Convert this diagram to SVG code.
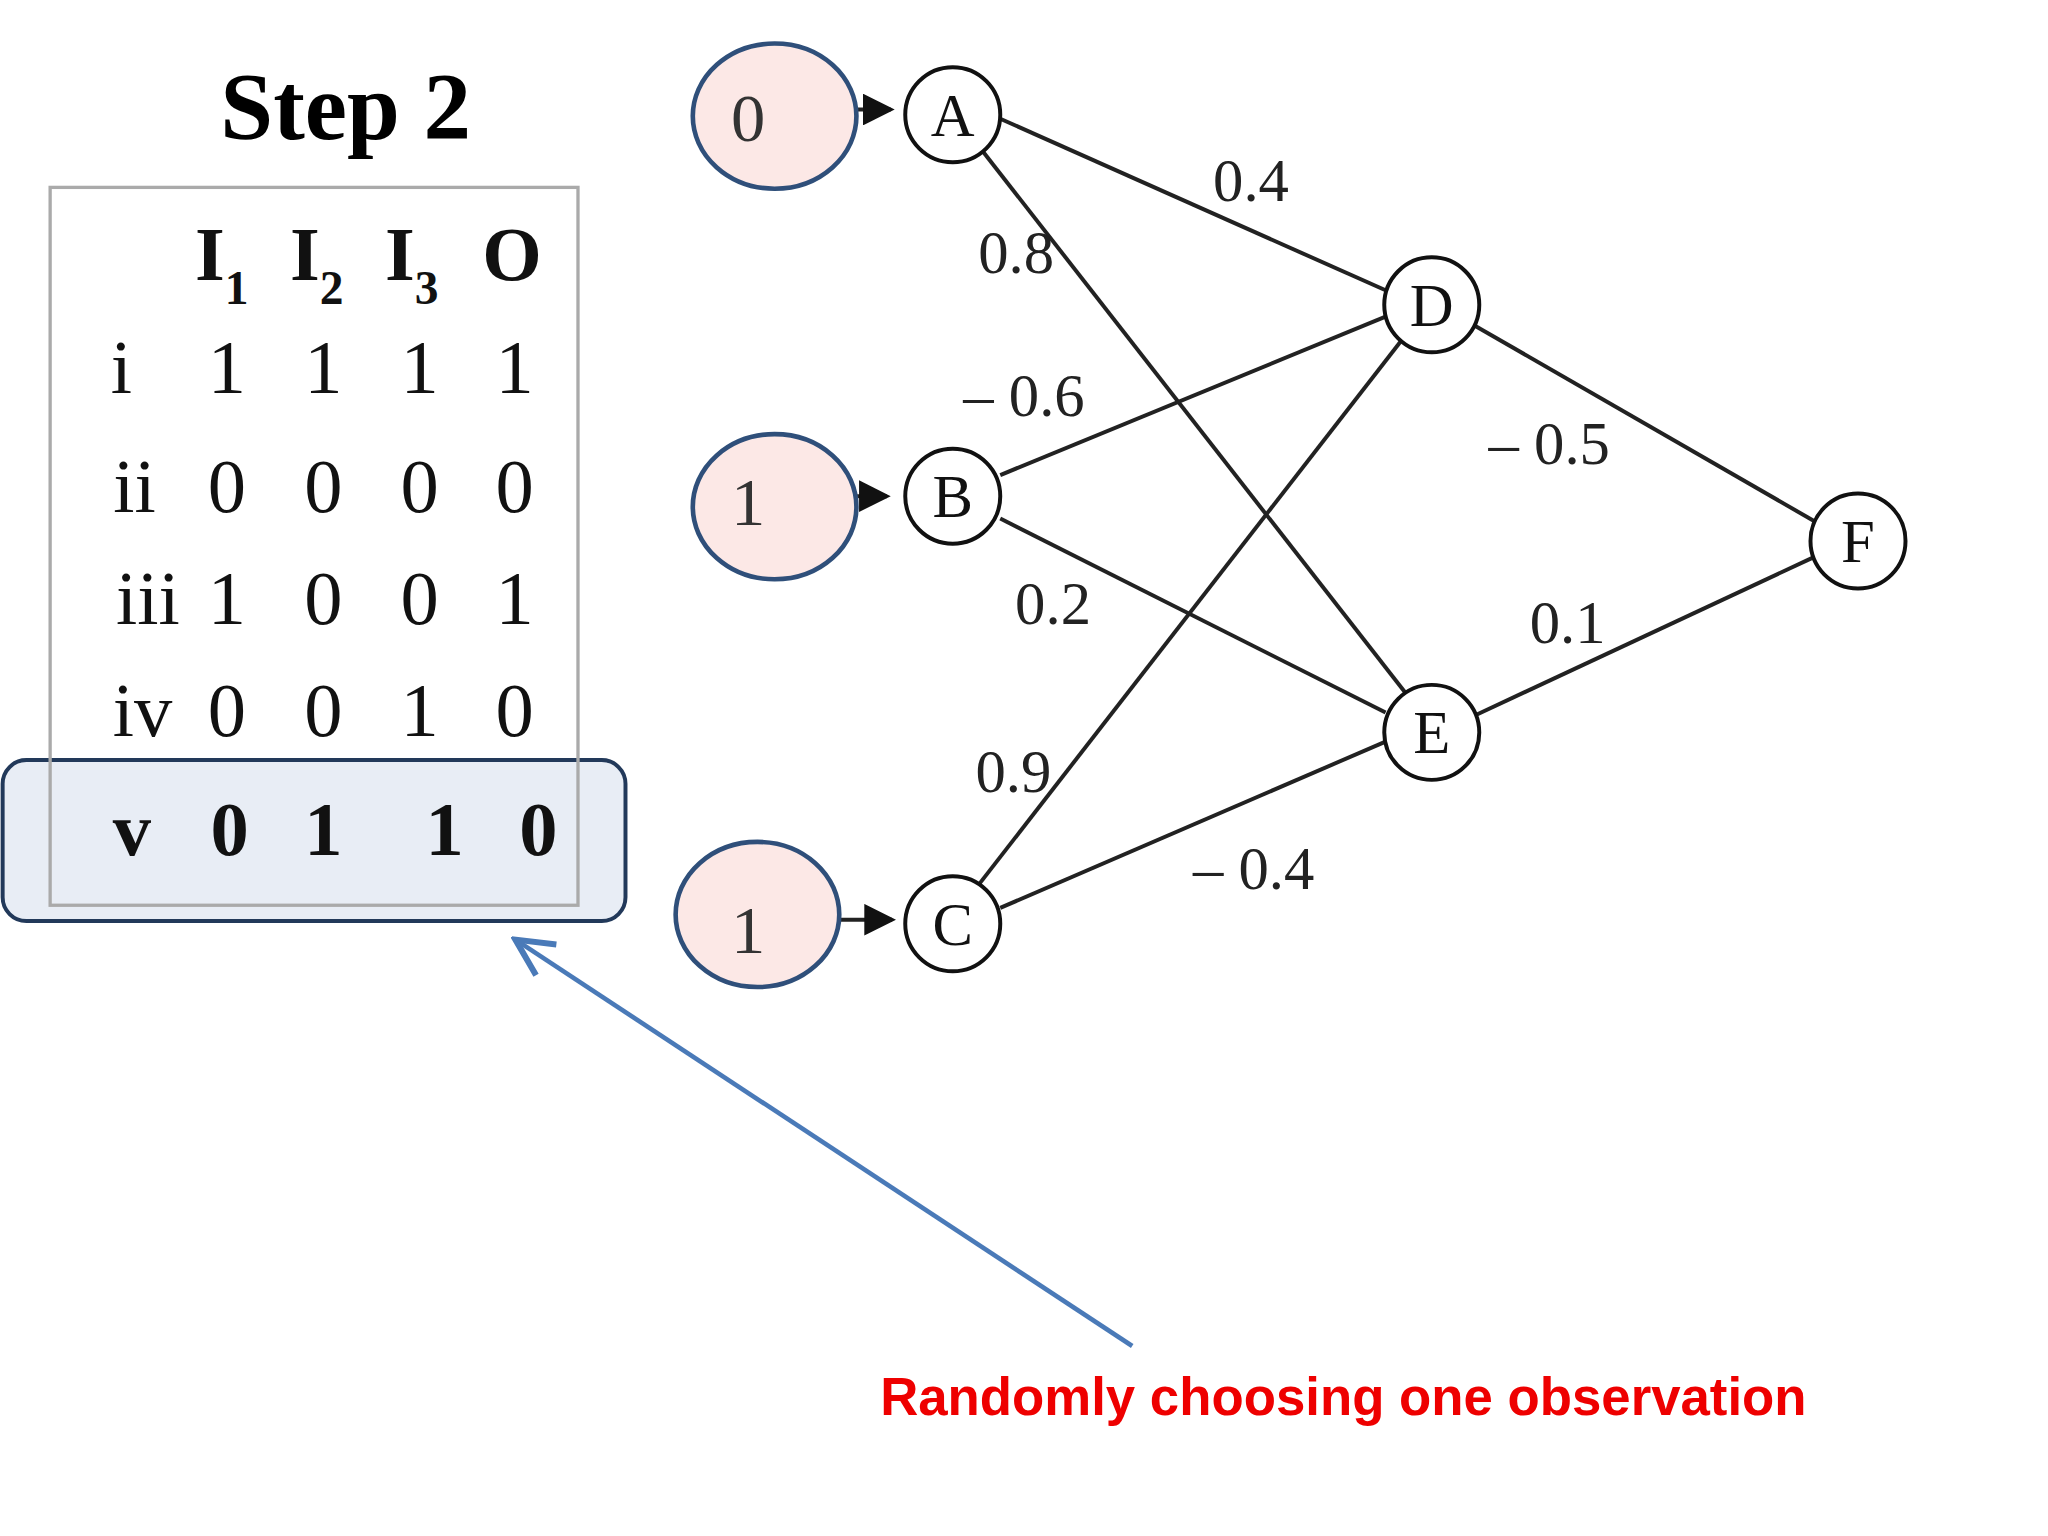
<svg xmlns="http://www.w3.org/2000/svg" width="2048" height="1536" viewBox="0 0 2048 1536">
<style>
.n{fill:#fff;stroke:#111;stroke-width:3}
.nt{font-family:"Liberation Serif",serif;font-size:46px;text-anchor:middle;fill:#111}
.it{font-family:"Liberation Serif",serif;font-size:52px;text-anchor:middle;fill:#333}
.in{fill:#fce8e6;stroke:#2f4f7a;stroke-width:3.5}
.e{stroke:#222;stroke-width:3;fill:none}
.w{font-family:"Liberation Serif",serif;font-size:46px;fill:#222;text-anchor:middle}
.tb{font-family:"Liberation Serif",serif;font-size:58px;fill:#111;text-anchor:middle}
</style>
<defs>
<marker id="ah" markerWidth="8" markerHeight="8" refX="7" refY="4" orient="auto" markerUnits="strokeWidth"><path d="M0,0L8,4L0,8z" fill="#111"/></marker>
<marker id="ob" markerWidth="10" markerHeight="10" refX="8.5" refY="5" orient="auto" markerUnits="strokeWidth"><path d="M1,1L9,5L1,9" fill="none" stroke="#4a7ab8" stroke-width="1.3"/></marker>
</defs>
<rect width="2048" height="1536" fill="#fff"/>
<g transform="scale(1.3196)">
<g id="table">
<text x="262" y="105" font-family="Liberation Serif,serif" font-size="72" font-weight="bold" text-anchor="middle">Step 2</text>
<rect x="2" y="576" width="472" height="122" rx="18" fill="#e8edf5" stroke="#22395a" stroke-width="3"/>
<rect x="38" y="142" width="400" height="544" fill="none" stroke="#aaa" stroke-width="2.5"/>
<g class="tb" font-weight="bold">
<text x="168" y="212">I<tspan font-size="36" dy="18">1</tspan></text>
<text x="240" y="212">I<tspan font-size="36" dy="18">2</tspan></text>
<text x="312" y="212">I<tspan font-size="36" dy="18">3</tspan></text>
<text x="388" y="212">O</text>
</g>
<g class="tb">
<text x="92" y="298">i</text><text x="172" y="298">1</text><text x="245" y="298">1</text><text x="318" y="298">1</text><text x="390" y="298">1</text>
<text x="102" y="388">ii</text><text x="172" y="388">0</text><text x="245" y="388">0</text><text x="318" y="388">0</text><text x="390" y="388">0</text>
<text x="112" y="473">iii</text><text x="172" y="473">1</text><text x="245" y="473">0</text><text x="318" y="473">0</text><text x="390" y="473">1</text>
<text x="108" y="558">iv</text><text x="172" y="558">0</text><text x="245" y="558">0</text><text x="318" y="558">1</text><text x="390" y="558">0</text>
</g>
<g class="tb" font-weight="bold">
<text x="100" y="648">v</text><text x="174" y="648">0</text><text x="245" y="648">1</text><text x="337" y="648">1</text><text x="408" y="648">0</text>
</g>
</g>
<g id="connectors">
<line class="e" x1="758" y1="90" x2="1050" y2="220"/>
<line class="e" x1="745" y1="115" x2="1065" y2="525"/>
<line class="e" x1="758" y1="360" x2="1050" y2="240"/>
<line class="e" x1="758" y1="393" x2="1050" y2="540"/>
<line class="e" x1="742" y1="670" x2="1062" y2="258"/>
<line class="e" x1="758" y1="688" x2="1050" y2="562"/>
<line class="e" x1="1118" y1="247" x2="1375" y2="395"/>
<line class="e" x1="1118" y1="542" x2="1375" y2="422"/>
<line class="e" x1="598" y1="83" x2="675" y2="83" marker-end="url(#ah)"/>
<line class="e" x1="596" y1="376" x2="672" y2="376" marker-end="url(#ah)"/>
<line class="e" x1="604" y1="697" x2="676" y2="697" marker-end="url(#ah)"/>
<line x1="858" y1="1020" x2="392" y2="713" stroke="#4a7ab8" stroke-width="3.5" marker-end="url(#ob)"/>
<g class="w">
<text x="948" y="152">0.4</text><text x="770" y="207">0.8</text><text x="776" y="315">– 0.6</text><text x="798" y="473">0.2</text>
<text x="768" y="600">0.9</text><text x="950" y="674">– 0.4</text><text x="1174" y="352">– 0.5</text><text x="1188" y="487">0.1</text>
</g>
</g>
<g id="in0"><ellipse class="in" cx="587" cy="88" rx="62" ry="55"/><text class="it" x="567" y="107">0</text></g>
<g id="in1"><ellipse class="in" cx="587" cy="384" rx="62" ry="55"/><text class="it" x="567" y="398">1</text></g>
<g id="in2"><ellipse class="in" cx="574" cy="693" rx="62" ry="55"/><text class="it" x="567" y="722">1</text></g>
<g id="A"><circle class="n" cx="722" cy="87" r="36"/><text class="nt" x="722" y="103">A</text></g>
<g id="B"><circle class="n" cx="722" cy="376" r="36"/><text class="nt" x="722" y="392">B</text></g>
<g id="C"><circle class="n" cx="722" cy="700" r="36"/><text class="nt" x="722" y="716">C</text></g>
<g id="D"><circle class="n" cx="1085" cy="231" r="36"/><text class="nt" x="1085" y="247">D</text></g>
<g id="E"><circle class="n" cx="1085" cy="555" r="36"/><text class="nt" x="1085" y="571">E</text></g>
<g id="F"><circle class="n" cx="1408" cy="410" r="36"/><text class="nt" x="1408" y="426">F</text></g>
<text x="1018" y="1072" font-family="Liberation Sans,sans-serif" font-size="40" font-weight="bold" fill="#ee0000" text-anchor="middle">Randomly choosing one observation</text>
</g>
</svg>
